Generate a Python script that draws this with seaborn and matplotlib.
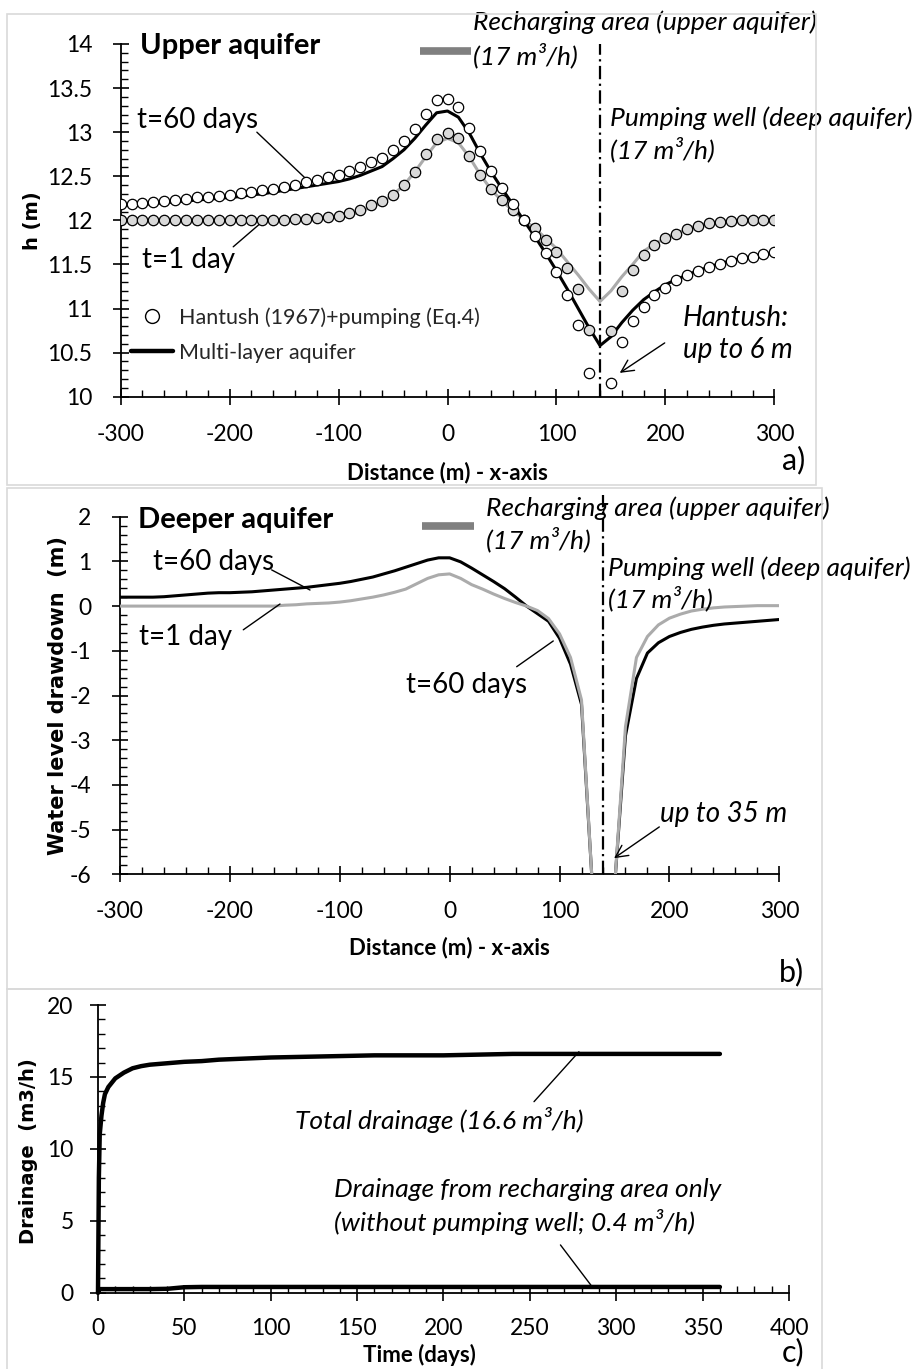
import numpy as np
import pandas as pd
import matplotlib
matplotlib.use('Agg')
import matplotlib.pyplot as plt
import seaborn as sns
from matplotlib.lines import Line2D
from matplotlib.patches import Rectangle
from matplotlib.ticker import MultipleLocator, FuncFormatter

# ---------------- data ----------------
x_dist = list(range(-300, 301, 10))

# Panel a: multi-layer model (lines)
h_t60_model = [12.17, 12.17, 12.18, 12.19, 12.20, 12.21, 12.22, 12.23, 12.24, 12.25,
               12.26, 12.27, 12.29, 12.30, 12.32, 12.34, 12.36, 12.38, 12.40, 12.42,
               12.44, 12.47, 12.51, 12.56, 12.61, 12.70, 12.80, 12.93, 13.08, 13.22,
               13.24, 13.17, 12.99, 12.76, 12.55, 12.36, 12.18, 12.00, 11.82, 11.63,
               11.43, 11.22, 11.00, 10.78, 10.58, 10.68, 10.84, 10.98, 11.10, 11.19,
               11.27, 11.33, 11.38, 11.43, 11.47, 11.51, 11.54, 11.57, 11.59, 11.61,
               11.63]
h_t1_model = [12.00, 12.00, 12.00, 12.00, 12.00, 12.00, 12.00, 12.00, 12.00, 12.00,
              12.00, 12.00, 12.00, 12.00, 12.00, 12.00, 12.01, 12.01, 12.02, 12.03,
              12.04, 12.06, 12.10, 12.15, 12.21, 12.29, 12.40, 12.55, 12.72, 12.88,
              12.93, 12.88, 12.72, 12.52, 12.35, 12.22, 12.11, 12.01, 11.91, 11.80,
              11.68, 11.53, 11.38, 11.22, 11.08, 11.20, 11.36, 11.50, 11.65, 11.73,
              11.80, 11.85, 11.90, 11.94, 11.96, 11.98, 12.00, 12.00, 12.00, 12.00,
              12.00]
# Panel a: Hantush (1967) + pumping (markers)
h_t60_hantush = [12.19, 12.19, 12.20, 12.21, 12.22, 12.23, 12.24, 12.26, 12.27, 12.28,
                 12.29, 12.31, 12.32, 12.34, 12.36, 12.38, 12.40, 12.43, 12.46, 12.49,
                 12.51, 12.56, 12.61, 12.66, 12.71, 12.80, 12.90, 13.04, 13.21, 13.36,
                 13.38, 13.28, 13.05, 12.79, 12.56, 12.37, 12.18, 12.00, 11.82, 11.63,
                 11.41, 11.15, 10.81, 10.27, np.nan, 10.16, 10.62, 10.86, 11.02, 11.15,
                 11.23, 11.32, 11.38, 11.43, 11.47, 11.51, 11.54, 11.57, 11.59, 11.62,
                 11.64]
h_t1_hantush = [12.00, 12.00, 12.00, 12.00, 12.00, 12.00, 12.00, 12.00, 12.00, 12.00,
                12.00, 12.00, 12.00, 12.00, 12.00, 12.00, 12.01, 12.02, 12.03, 12.04,
                12.05, 12.08, 12.12, 12.17, 12.22, 12.29, 12.40, 12.55, 12.75, 12.92,
                12.99, 12.93, 12.73, 12.51, 12.35, 12.23, 12.12, 12.00, 11.91, 11.78,
                11.64, 11.46, 11.22, 10.76, np.nan, 10.75, 11.20, 11.44, 11.61, 11.72,
                11.80, 11.85, 11.90, 11.94, 11.97, 11.98, 11.99, 12.00, 12.00, 12.00,
                12.00]

# Panel b: deeper aquifer drawdown
dd_t60 = [0.20, 0.20, 0.20, 0.20, 0.21, 0.23, 0.25, 0.27, 0.29, 0.30,
          0.30, 0.31, 0.32, 0.34, 0.36, 0.38, 0.40, 0.42, 0.45, 0.48,
          0.51, 0.55, 0.60, 0.65, 0.72, 0.79, 0.87, 0.95, 1.03, 1.08,
          1.08, 0.99, 0.85, 0.70, 0.55, 0.39, 0.20, 0.00, -0.17, -0.34,
          -0.72, -1.30, -2.20, -6.30, -35.0, -6.30, -2.90, -1.62, -1.05, -0.82,
          -0.68, -0.59, -0.52, -0.47, -0.43, -0.40, -0.38, -0.36, -0.34, -0.32,
          -0.30]
dd_t1 = [0.00, 0.00, 0.00, 0.00, 0.00, 0.00, 0.00, 0.00, 0.00, 0.00,
         0.00, 0.00, 0.00, 0.00, 0.00, 0.02, 0.03, 0.05, 0.06, 0.07,
         0.09, 0.12, 0.16, 0.20, 0.25, 0.31, 0.38, 0.50, 0.62, 0.70,
         0.72, 0.62, 0.48, 0.38, 0.27, 0.17, 0.08, 0.00, -0.10, -0.28,
         -0.62, -1.15, -2.10, -6.30, -35.0, -6.30, -2.70, -1.15, -0.68, -0.42,
         -0.27, -0.18, -0.11, -0.07, -0.04, -0.02, -0.01, 0.00, 0.01, 0.01,
         0.01]

# Panel c: drainage vs time
t_days = [0, 0.5, 1, 2, 3, 4, 6, 8, 10, 15, 20, 25, 30, 40, 50, 60, 70, 80, 90,
          100, 120, 140, 160, 180, 200, 220, 240, 260, 280, 300, 320, 340, 360]
drain_total = [0.0, 8.0, 11.0, 12.3, 13.2, 13.8, 14.3, 14.6, 14.9, 15.3, 15.6, 15.75,
               15.85, 15.95, 16.05, 16.1, 16.2, 16.25, 16.3, 16.35, 16.4, 16.45, 16.5,
               16.5, 16.5, 16.55, 16.6, 16.6, 16.6, 16.6, 16.6, 16.6, 16.6]
drain_recharge = [0.0, 0.2, 0.25, 0.25, 0.25, 0.25, 0.25, 0.25, 0.25, 0.25, 0.25, 0.25,
                  0.25, 0.27, 0.38, 0.4, 0.4, 0.4, 0.4, 0.4, 0.4, 0.4, 0.4, 0.4, 0.4,
                  0.4, 0.4, 0.4, 0.4, 0.4, 0.4, 0.4, 0.4]

well_x = 140
recharge_extent = [-25, 22]

# ---------------- style ----------------
sns.set_theme(style='white')
plt.rcParams['font.family'] = ['Lato', 'DejaVu Sans']
plt.rcParams['axes.unicode_minus'] = False

W, H = 917, 1369
fig = plt.figure(figsize=(W / 100, H / 100), dpi=100)


def fx(px):
    return px / W


def fy(py):
    return 1 - py / H


def add_axes(l, r, t, b):
    return fig.add_axes([fx(l), fy(b), (r - l) / W, (b - t) / H])


# panel frames
for (l, t, r, b) in [(7, 14, 816, 485), (7, 488, 822, 989), (7, 989, 822, 1372)]:
    fig.add_artist(Rectangle((fx(l), fy(b)), (r - l) / W, (b - t) / H, fill=False,
                             ec='#d9d9d9', lw=1.2, transform=fig.transFigure))

TICK = 16.5
ANN = 19
BIG = 20
gfmt = FuncFormatter(lambda v, p: '%g' % v)
GRAY_LINE = '#ababab'
GRAY_BAR = '#808080'
dashdot = (0, (6, 2, 1, 2))


def style_axes(ax, xmaj, xmin, ymaj, ymin, padx, pady):
    for s in ['top', 'right']:
        ax.spines[s].set_visible(False)
    for s in ['left', 'bottom']:
        ax.spines[s].set_color('black')
        ax.spines[s].set_linewidth(1.3)
    ax.xaxis.set_major_locator(MultipleLocator(xmaj))
    ax.xaxis.set_minor_locator(MultipleLocator(xmin))
    ax.yaxis.set_major_locator(MultipleLocator(ymaj))
    ax.yaxis.set_minor_locator(MultipleLocator(ymin))
    ax.xaxis.set_major_formatter(gfmt)
    ax.yaxis.set_major_formatter(gfmt)
    ax.tick_params(which='major', direction='inout', length=11, width=1.2,
                   color='black', labelsize=TICK, labelcolor='black',
                   bottom=True, left=True)
    ax.tick_params(axis='x', which='major', pad=padx)
    ax.tick_params(axis='y', which='major', pad=pady)
    ax.tick_params(which='minor', direction='in', length=5, width=1.0,
                   color='black', bottom=True, left=True)
    ax.grid(False)
    ax.set_facecolor('none')


def leader(ax, p0, p1, arrow=False):
    ax.annotate('', xy=p1, xytext=p0,
                arrowprops=dict(arrowstyle='->' if arrow else '-', lw=1.0,
                                color='black', mutation_scale=22,
                                shrinkA=0, shrinkB=0))


def itxt(ax, x, y, s, size=ANN):
    ax.text(x, y, s, fontsize=size, style='italic', ha='left', va='center',
            color='black')


def ntxt(ax, x, y, s, size=BIG, weight='normal'):
    ax.text(x, y, s, fontsize=size, fontweight=weight, ha='left', va='center',
            color='black')


# ---------------- panel a ----------------
axa = add_axes(120.7, 774.3, 44, 396.7)
dfa = pd.DataFrame({'x': x_dist, 't60m': h_t60_model, 't1m': h_t1_model,
                    't60h': h_t60_hantush, 't1h': h_t1_hantush})
sns.lineplot(data=dfa, x='x', y='t1m', ax=axa, color=GRAY_LINE, lw=2.2,
             estimator=None, sort=False, zorder=2)
sns.lineplot(data=dfa, x='x', y='t60m', ax=axa, color='black', lw=2.2,
             estimator=None, sort=False, zorder=3)
sns.scatterplot(data=dfa, x='x', y='t1h', ax=axa, color='#d9d9d9',
                edgecolor='black', linewidth=0.9, s=56, zorder=4)
sns.scatterplot(data=dfa, x='x', y='t60h', ax=axa, color='white',
                edgecolor='black', linewidth=0.9, s=56, zorder=4)
axa.set_xlim(-300, 300)
axa.set_ylim(10, 14)
style_axes(axa, 100, 20, 0.5, 0.1, 14, 15)
axa.axvline(well_x, color='black', lw=1.6, ls=dashdot, zorder=5)
axa.plot(recharge_extent, [13.92, 13.92], color=GRAY_BAR, lw=5.5,
         solid_capstyle='butt', clip_on=False)

axa.set_xlabel('Distance (m) - x-axis', fontsize=16, fontweight='bold', color='black')
axa.xaxis.set_label_coords(0.5, (396.7 - 473) / 352.7)
axa.xaxis.label.set_va('center')
axa.set_ylabel('h (m)', fontsize=14, fontweight='bold', color='black',
               family='DejaVu Sans')
axa.yaxis.set_label_coords((32 - 120.7) / 653.6, 0.5)
axa.yaxis.label.set_va('center')

ntxt(axa, -282.2, 13.98, 'Upper aquifer', size=21, weight='bold')
itxt(axa, 23.2, 14.25, 'Recharging area (upper aquifer)')
itxt(axa, 23.2, 13.875, '(17 m³/h)')
itxt(axa, 149, 13.16, 'Pumping well (deep aquifer)')
itxt(axa, 149, 12.80, '(17 m³/h)')
ntxt(axa, -285, 13.14, 't=60 days')
ntxt(axa, -280.5, 11.55, 't=1 day')
itxt(axa, 216.3, 10.89, 'Hantush:', size=BIG)
itxt(axa, 216.3, 10.53, 'up to 6 m', size=BIG)
leader(axa, (-175, 13.0), (-129, 12.46))
leader(axa, (-196.7, 11.70), (-167.6, 12.01))
leader(axa, (199.4, 10.61), (158.1, 10.27), arrow=True)

handles = [Line2D([], [], marker='o', ls='none', mfc='white', mec='black', ms=10, mew=1.0),
           Line2D([], [], color='black', lw=3.2)]
axa.legend(handles, ['Hantush (1967)+pumping (Eq.4)', 'Multi-layer aquifer'],
           loc='center left', bbox_to_anchor=(fx(131), fy(335)),
           bbox_transform=fig.transFigure, frameon=False, fontsize=15.5,
           handlelength=1.95, handletextpad=0.3, labelspacing=0.7,
           borderpad=0, borderaxespad=0)

# ---------------- panel b ----------------
axb = add_axes(120.0, 779.3, 516.7, 874.3)
dfb = pd.DataFrame({'x': x_dist, 't60': dd_t60, 't1': dd_t1})
sns.lineplot(data=dfb, x='x', y='t60', ax=axb, color='black', lw=2.2,
             estimator=None, sort=False, zorder=3)
sns.lineplot(data=dfb, x='x', y='t1', ax=axb, color=GRAY_LINE, lw=2.2,
             estimator=None, sort=False, zorder=3)
axb.set_xlim(-300, 300)
axb.set_ylim(-6, 2)
style_axes(axb, 100, 20, 1, 0.2, 14, 15)
axb.plot([well_x, well_x], [-6, 2.48], color='black', lw=1.6, ls=dashdot,
         clip_on=False, zorder=5)
axb.plot(recharge_extent, [1.80, 1.80], color=GRAY_BAR, lw=5.5,
         solid_capstyle='butt', clip_on=False)
axb.set_xlabel('Distance (m) - x-axis', fontsize=16, fontweight='bold', color='black')
axb.xaxis.set_label_coords(0.5, (874.3 - 948) / 357.6)
axb.xaxis.label.set_va('center')
axb.set_ylabel('Water level drawdown  (m)', fontsize=15, fontweight='bold',
               color='black', family='DejaVu Sans')
axb.yaxis.set_label_coords((58 - 120) / 659.3, 0.5)
axb.yaxis.label.set_va('center')

ntxt(axb, -283.4, 1.93, 'Deeper aquifer', size=21, weight='bold')
itxt(axb, 33.1, 2.19, 'Recharging area (upper aquifer)')
itxt(axb, 33.1, 1.48, '(17 m³/h)')
itxt(axb, 144.4, 0.85, 'Pumping well (deep aquifer)')
itxt(axb, 144.4, 0.175, '(17 m³/h)')
ntxt(axb, -269.7, 0.99, 't=60 days')
ntxt(axb, -282.4, -0.685, 't=1 day')
ntxt(axb, -40, -1.77, 't=60 days')
itxt(axb, 191.4, -4.64, 'up to 35 m', size=BIG)
leader(axb, (-162, 0.81), (-127.1, 0.36))
leader(axb, (-187.8, -0.53), (-154.4, 0.047))
leader(axb, (61.0, -1.356), (94.3, -0.78))
leader(axb, (190.8, -4.94), (149.6, -5.64), arrow=True)

# ---------------- panel c ----------------
axc = add_axes(98, 789, 1005, 1292.7)
dfc = pd.DataFrame({'t': t_days, 'total': drain_total, 'rech': drain_recharge})
sns.lineplot(data=dfc, x='t', y='total', ax=axc, color='black', lw=3.2,
             estimator=None, sort=False, zorder=3)
sns.lineplot(data=dfc, x='t', y='rech', ax=axc, color='black', lw=3.2,
             estimator=None, sort=False, zorder=3)
axc.set_xlim(0, 400)
axc.set_ylim(0, 20)
style_axes(axc, 50, 10, 5, 1, 13, 12)
for ln in axc.lines:
    ln.set_clip_on(False)
axc.set_xlabel('Time (days)', fontsize=16, fontweight='bold', color='black')
axc.xaxis.set_label_coords((419 - 98) / 691, (1292.7 - 1355) / 287.7)
axc.xaxis.label.set_va('center')
axc.set_ylabel('Drainage  (m3/h)', fontsize=14, fontweight='bold', color='black',
               family='DejaVu Sans')
axc.yaxis.set_label_coords((28 - 98) / 691, 0.4925)
axc.yaxis.label.set_va('center')

itxt(axc, 114, 12.0, 'Total drainage (16.6 m³/h)')
itxt(axc, 136.9, 7.2, 'Drainage from recharging area only')
itxt(axc, 136.9, 4.9, '(without pumping well; 0.4 m³/h)')
leader(axc, (252.4, 13.28), (278.4, 16.75))
leader(axc, (267.7, 3.32), (285.3, 0.53))

# panel letters
for lab, (px, py) in {'a)': (782, 460), 'b)': (779, 972), 'c)': (782, 1352)}.items():
    fig.text(fx(px), fy(py), lab, fontsize=22, ha='left', va='center', color='black')

fig.savefig('out.png', dpi=100)
